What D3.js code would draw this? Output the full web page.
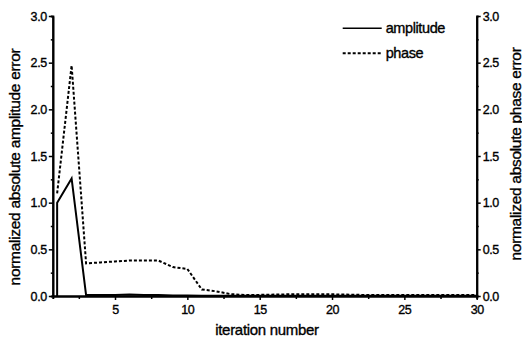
<!DOCTYPE html>
<html>
<head>
<meta charset="utf-8">
<script src="https://cdn.jsdelivr.net/npm/d3@7"></script>
<style>
  body { margin: 0; background: #fff; }
  svg text { font-family: "Liberation Sans", Arial, sans-serif; fill: #000; stroke: #000; stroke-width: 0.35px; }
</style>
</head>
<body>
<div id="chart"></div>
<script>
// iteration 1..30
const iterations = d3.range(1, 31)
const amplitude = [1.0, 1.26, 0.01, 0.01, 0.01, 0.015, 0.012, 0.01, 0.006, 0.005,
    0.004, 0.003, 0.003, 0.002, 0.002, 0.002, 0.002, 0.002, 0.002, 0.002,
    0.002, 0.002, 0.002, 0.002, 0.002, 0.002, 0.002, 0.002, 0.002, 0.002]
const phase = [1.1, 2.47, 0.35, 0.36, 0.37, 0.38, 0.38, 0.38, 0.31, 0.29,
    0.07, 0.05, 0.02, 0.01, 0.012, 0.015, 0.018, 0.018, 0.02, 0.018,
    0.015, 0.012, 0.01, 0.01, 0.01, 0.01, 0.012, 0.012, 0.012, 0.012]
const xTicks = [5, 10, 15, 20, 25, 30]
const xMinor = [2.5, 7.5, 12.5, 17.5, 22.5, 27.5]
const yTicks = [0, 0.5, 1.0, 1.5, 2.0, 2.5, 3.0]
const yMinor = [0.25, 0.75, 1.25, 1.75, 2.25, 2.75]
const legendItems = ['amplitude', 'phase']

const width = 522
const height = 347

const svg = d3.select('#chart').append('svg')
    .attr('width', width)
    .attr('height', height)

const x = d3.scaleLinear().domain([0.7, 30]).range([52.8, 476.7])
const y = d3.scaleLinear().domain([0, 3]).range([296, 16])

// minor ticks first so axes draw over
svg.append('g').attr('transform', `translate(0 ${y(0)})`)
    .call(d3.axisBottom(x).tickValues(xMinor).tickSize(3).tickFormat(''))
svg.append('g').attr('transform', `translate(${x.range()[0]} 0)`)
    .call(d3.axisLeft(y).tickValues(yMinor).tickSize(2).tickFormat(''))
svg.append('g').attr('transform', `translate(${x.range()[1]} 0)`)
    .call(d3.axisRight(y).tickValues(yMinor).tickSize(2).tickFormat(''))

svg.append('g').attr('transform', `translate(0 ${y(0)})`)
    .call(d3.axisBottom(x).tickValues(xTicks).tickSize(4).tickSizeOuter(0).tickPadding(5))
svg.append('g').attr('transform', `translate(${x.range()[0]} 0)`)
    .call(d3.axisLeft(y).tickValues(yTicks).tickSize(4).tickSizeOuter(0).tickPadding(2).tickFormat(d3.format('.1f')))
svg.append('g').attr('transform', `translate(${x.range()[1]} 0)`)
    .call(d3.axisRight(y).tickValues(yTicks).tickSize(4).tickSizeOuter(0).tickPadding(2).tickFormat(d3.format('.1f')))

svg.selectAll('.domain').attr('stroke', '#000').attr('stroke-width', 2)
svg.selectAll('.tick line').attr('stroke', '#000').attr('stroke-width', 1.5)
svg.selectAll('.tick text')
    .attr('font-size', 12.5)
    .attr('font-family', '"Liberation Sans", Arial, sans-serif')
    .attr('letter-spacing', -0.4)
    .attr('fill', '#000')

// data lines
const line = d3.line().x(d => x(d[0])).y(d => y(d[1]))
const ampPoints = [[1, 0]].concat(iterations.map((d, i) => [d, amplitude[i]]))
const phasePoints = iterations.map((d, i) => [d, phase[i]])

svg.append('path')
    .datum(ampPoints)
    .attr('d', line)
    .attr('fill', 'none')
    .attr('stroke', '#000')
    .attr('stroke-width', 2)

svg.append('path')
    .datum(phasePoints)
    .attr('d', line)
    .attr('fill', 'none')
    .attr('stroke', '#000')
    .attr('stroke-width', 2)
    .attr('stroke-dasharray', '3,2')

// axis titles
svg.append('text')
    .attr('transform', `translate(14 167) rotate(-90)`)
    .attr('text-anchor', 'middle')
    .attr('dominant-baseline', 'central')
    .attr('font-size', 15.5)
    .attr('letter-spacing', -0.3)
    .text('normalized absolute amplitude error')

svg.append('text')
    .attr('transform', `translate(515 154) rotate(-90)`)
    .attr('text-anchor', 'middle')
    .attr('dominant-baseline', 'central')
    .attr('font-size', 15.5)
    .attr('letter-spacing', -0.3)
    .text('normalized absolute phase error')

svg.append('text')
    .attr('x', 267)
    .attr('y', 335)
    .attr('text-anchor', 'middle')
    .attr('font-size', 15)
    .attr('letter-spacing', -0.3)
    .text('iteration number')

// legend
const legend = svg.append('g').attr('transform', 'translate(342.7 28.3)')
legendItems.forEach((name, i) => {
    const row = legend.append('g').attr('transform', `translate(0 ${i * 25})`)
    row.append('line')
        .attr('x1', 0).attr('x2', 39)
        .attr('stroke', '#000')
        .attr('stroke-width', name === 'phase' ? 2 : 1.5)
        .attr('stroke-dasharray', name === 'phase' ? '3,2' : null)
    row.append('text')
        .attr('x', 43)
        .attr('dominant-baseline', 'central')
        .attr('font-size', 14.5)
        .attr('letter-spacing', -0.4)
        .text(name)
})
</script>
</body>
</html>
